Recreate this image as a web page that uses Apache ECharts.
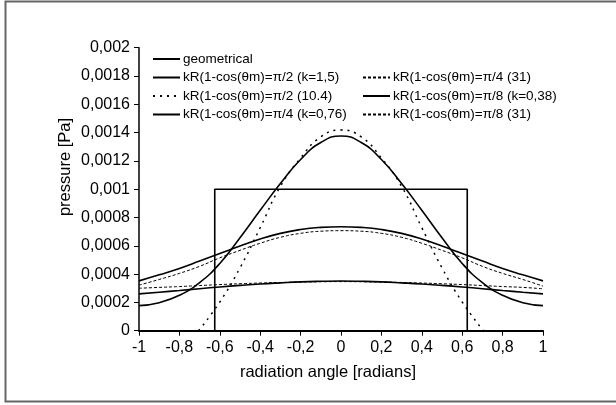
<!DOCTYPE html>
<html>
<head>
<meta charset="utf-8">
<script src="https://cdn.jsdelivr.net/npm/echarts@6/dist/echarts.min.js"></script>
<style>
html,body{margin:0;padding:0;background:#fff;}
#chart{width:616px;height:405px;}
</style>
</head>
<body>
<div id="chart"></div>
<script>
// ---- data ----
var theta = [-1, -0.9, -0.8, -0.7, -0.6, -0.5, -0.4, -0.3, -0.2, -0.1, 0, 0.1, 0.2, 0.3, 0.4, 0.5, 0.6, 0.7, 0.8, 0.9, 1];

var geomX = [-1, -0.625, -0.625, 0.625, 0.625, 1];
var geomY = [0, 0, 0.001, 0.001, 0, 0];

var halfPi_k15 = [0.000177, 0.000198, 0.00025, 0.00034, 0.000475, 0.000657, 0.000851, 0.00104, 0.00121, 0.00133, 0.001376, 0.00133, 0.00121, 0.00104, 0.000851, 0.000657, 0.000475, 0.00034, 0.00025, 0.000198, 0.000177];

var dotX = [-0.705, -0.6, -0.5, -0.4, -0.3, -0.2, -0.1, 0, 0.1, 0.2, 0.3, 0.4, 0.5, 0.6, 0.705];
var halfPi_104 = [0, 0.000203, 0.000444, 0.000728, 0.00102, 0.00122, 0.00137, 0.001418, 0.00137, 0.00122, 0.00102, 0.000728, 0.000444, 0.000203, 0];

var quarterPi_k076 = [0.000352, 0.000395, 0.00044, 0.000492, 0.000545, 0.000598, 0.000648, 0.000688, 0.000715, 0.00073, 0.000735, 0.00073, 0.000715, 0.000688, 0.000648, 0.000598, 0.000545, 0.000492, 0.00044, 0.000395, 0.000352];

var quarterPi_31 = [0.000322, 0.000362, 0.000405, 0.000455, 0.000515, 0.000568, 0.000618, 0.00066, 0.000688, 0.000703, 0.000707, 0.000703, 0.000688, 0.00066, 0.000618, 0.000568, 0.000515, 0.000455, 0.000405, 0.000362, 0.000315];

var eighthPi_k038 = [0.00026, 0.000272, 0.000284, 0.000297, 0.000309, 0.00032, 0.00033, 0.000338, 0.000345, 0.000349, 0.000351, 0.000349, 0.000345, 0.000338, 0.00033, 0.00032, 0.000309, 0.000297, 0.000284, 0.000272, 0.00026];

var eighthPi_31 = [0.0003, 0.000306, 0.000312, 0.000319, 0.000326, 0.000332, 0.000337, 0.000341, 0.000344, 0.000346, 0.000347, 0.000346, 0.000344, 0.000341, 0.000337, 0.000332, 0.000326, 0.000319, 0.000312, 0.000306, 0.000296];

var names = [
  'geometrical',
  'kR(1-cos(θm)=π/2 (k=1,5)',
  'kR(1-cos(θm)=π/2 (10.4)',
  'kR(1-cos(θm)=π/4 (k=0,76)',
  'kR(1-cos(θm)=π/4 (31)',
  'kR(1-cos(θm)=π/8 (k=0,38)',
  'kR(1-cos(θm)=π/8 (31)'
];

var xTicks = { min: -1, max: 1, step: 0.2 };
var yTicks = { min: 0, max: 0.002, step: 0.0002 };

// ---- helpers ----
function pairs(xs, ys) { return xs.map(function (x, i) { return [x, ys[i]]; }); }
function fmtY(v) {
  if (Math.abs(v) < 1e-12) return '0';
  var s = v.toFixed(4).replace(/0+$/, '').replace(/\.$/, '');
  return s.replace('.', ',');
}
function fmtX(v) {
  var s = v.toFixed(1).replace(/\.0$/, '');
  if (s === '-0') s = '0';
  return s.replace('.', ',');
}

var FONT = 'Liberation Sans, Arial, sans-serif';

function lineSeries(name, data, width, type, smooth) {
  return {
    name: name, type: 'line', data: data, symbol: 'none', smooth: smooth,
    lineStyle: { color: '#000', width: width, type: type },
    itemStyle: { color: '#000' },
    z: 3
  };
}

var legendBase = {
  orient: 'vertical', padding: 0,
  itemWidth: 27, itemHeight: 14, itemGap: 4.5,
  itemStyle: { opacity: 0 },
  textStyle: { fontSize: 13.5, color: '#000', fontFamily: FONT, lineHeight: 14, padding: [0, 0, 0, -2] }
};

var chart = echarts.init(document.getElementById('chart'), null, { renderer: 'canvas' });
var option = {
  animation: false,
  backgroundColor: '#fff',
  textStyle: { fontFamily: FONT },
  grid: { left: 139, right: 73, top: 47.7, bottom: 74.3, containLabel: false },
  legend: [
    Object.assign({}, legendBase, { left: 152, top: 52, data: [names[0], names[1], names[2], names[3]] }),
    Object.assign({}, legendBase, { left: 362, top: 70.5, data: [names[4], names[5], names[6]] })
  ],
  xAxis: {
    type: 'value', min: xTicks.min, max: xTicks.max, interval: xTicks.step,
    axisLine: { show: true, onZero: false, lineStyle: { color: '#000', width: 2 } },
    axisTick: { show: true, inside: false, length: 5, lineStyle: { color: '#000', width: 1 } },
    axisLabel: { color: '#000', fontSize: 16, fontFamily: FONT, margin: 9, formatter: fmtX },
    splitLine: { show: false }
  },
  yAxis: {
    type: 'value', min: yTicks.min, max: yTicks.max, interval: yTicks.step,
    axisLine: { show: true, onZero: false, lineStyle: { color: '#000', width: 1.5 } },
    axisTick: { show: true, inside: false, length: 5, lineStyle: { color: '#000', width: 1 } },
    axisLabel: { color: '#000', fontSize: 16, fontFamily: FONT, margin: 9, formatter: fmtY },
    splitLine: { show: false }
  },
  graphic: [
    { type: 'rect', shape: { x: 5.5, y: 1.5, width: 700, height: 400 }, style: { fill: 'none', stroke: '#666', lineWidth: 2 }, silent: true, z: 0 },
    { type: 'text', x: 65, y: 167, rotation: Math.PI / 2, style: { text: 'pressure [Pa]', fill: '#000', font: '16.5px ' + FONT, align: 'center', verticalAlign: 'middle' } },
    { type: 'text', x: 328, y: 372, style: { text: 'radiation angle [radians]', fill: '#000', font: '16.5px ' + FONT, align: 'center', verticalAlign: 'middle' } }
  ],
  series: [
    lineSeries(names[0], pairs(geomX, geomY), 1.6, 'solid', false),
    lineSeries(names[1], pairs(theta, halfPi_k15), 1.6, 'solid', true),
    lineSeries(names[2], pairs(dotX, halfPi_104), 1.5, [2, 5], true),
    lineSeries(names[3], pairs(theta, quarterPi_k076), 1.6, 'solid', true),
    lineSeries(names[4], pairs(theta, quarterPi_31), 1, [3, 2], true),
    lineSeries(names[5], pairs(theta, eighthPi_k038), 1.6, 'solid', true),
    lineSeries(names[6], pairs(theta, eighthPi_31), 1, [3, 2], true)
  ]
};
chart.setOption(option);
</script>
</body>
</html>
